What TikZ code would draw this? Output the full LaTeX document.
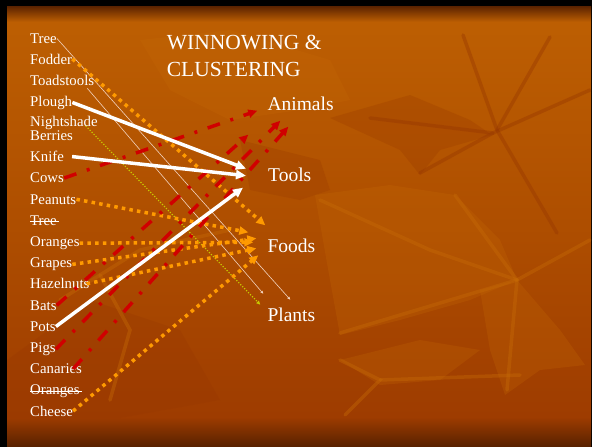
\documentclass[tikz,border=0pt]{standalone}
\usepackage{fontspec}
\setmainfont{Liberation Serif}
\usetikzlibrary{arrows.meta}
\definecolor{bgtop}{HTML}{BC5E02}
\definecolor{bgmid}{HTML}{AE4E00}
\definecolor{bgbot}{HTML}{9E3C00}
\definecolor{bgedge}{HTML}{5A2200}
\definecolor{leafdark}{HTML}{963600}
\definecolor{leaflight}{HTML}{C66A06}
\definecolor{redc}{HTML}{D00000}
\definecolor{orangec}{HTML}{FF9A00}
\definecolor{yellowc}{HTML}{C8C800}
\definecolor{thinc}{HTML}{F2D2BE}
\pgfdeclareverticalshading{slidebg}{100bp}{color(0bp)=(bgedge); color(25bp)=(bgedge); color(28.3bp)=(bgbot); color(50bp)=(bgmid); color(72.5bp)=(bgtop); color(73.2bp)=(bgtop); color(75bp)=(bgedge); color(100bp)=(bgedge)}
\tikzset{
  lbl/.style={anchor=base west, text=white, inner sep=0pt, font=\fontsize{14.8}{15}\selectfont},
  cat/.style={anchor=base west, text=white, inner sep=0pt, font=\fontsize{19.5}{20}\selectfont},
  ttl/.style={anchor=base west, text=white, inner sep=0pt, font=\fontsize{21.5}{22}\selectfont},
  strike/.style={white, line width=0.8pt},
  leaf/.style={fill=leaflight, opacity=0.25},
  darkleaf/.style={fill=leafdark, opacity=0.25},
  vein/.style={leafdark, line width=3.5pt, opacity=0.4, line cap=round},
  lightvein/.style={leaflight, line width=3.5pt, opacity=0.4, line cap=round},
  redarr/.style={redc, line width=3.5pt, dash pattern=on 13pt off 11pt on 3pt off 11pt, -{Triangle[length=9pt,width=8pt]}},
  orarr/.style={orangec, line width=3.5pt, dash pattern=on 3.5pt off 4.2pt, -{Triangle[length=9pt,width=8pt]}},
  whitearr/.style={white, line width=3.5pt, -{Triangle[length=10pt,width=9pt]}},
  thinarr/.style={thinc, line width=0.6pt, -{Triangle[length=3pt,width=2.5pt]}},
  yelarr/.style={yellowc, line width=1.2pt, dash pattern=on 1.2pt off 1.6pt, -{Triangle[length=4pt,width=3.5pt]}}
}
\begin{document}
\begin{tikzpicture}[x=1pt, y=-1pt]
  \useasboundingbox (0,0) rectangle (592,447);
  \fill[black] (0,0) rectangle (592,447);
  \shade[shading=slidebg] (7,6) rectangle (591,446);

  \begin{scope}
    \clip (7,20) rectangle (591,418);
    \fill[darkleaf] (330,118) -- (410,95) -- (470,120) -- (492,135) -- (440,150) -- (420,175) -- (400,150) -- cycle;
    \fill[darkleaf] (240,140) -- (320,160) -- (330,190) -- (300,200) -- (250,190) -- cycle;
    \fill[leaf] (315,195) -- (390,185) -- (455,195) -- (500,240) -- (517,280) -- (470,300) -- (400,320) -- (340,335) -- (330,280) -- cycle;
    \fill[leaf] (480,290) -- (517,280) -- (560,330) -- (585,365) -- (540,370) -- (505,395) -- (490,350) -- cycle;
    \fill[leaf] (140,40) -- (230,30) -- (330,60) -- (350,100) -- (300,110) -- (230,120) -- (170,90) -- cycle;
    \fill[darkleaf] (7,360) -- (90,300) -- (180,330) -- (220,400) -- (120,418) -- (7,418) -- cycle;
    \fill[leaf] (340,360) -- (420,340) -- (480,350) -- (440,380) -- (380,385) -- cycle;
    \draw[vein] (463,35) -- (497,130) -- (557,233);
    \draw[vein] (370,118) -- (493,133) -- (590,90);
    \draw[vein] (493,133) -- (420,173);
    \draw[vein] (550,37) -- (497,130);
    \draw[lightvein] (320,200) -- (430,250) -- (517,280);
    \draw[lightvein] (455,195) -- (517,280) -- (507,390);
    \draw[lightvein] (517,280) -- (590,240);
    \draw[lightvein] (517,280) -- (340,333);
    \draw[lightvein] (340,360) -- (380,380) -- (345,415);
    \draw[lightvein] (380,380) -- (520,375);
    \draw[lightvein] (60,300) -- (140,250) -- (230,230);
    \draw[lightvein] (100,275) -- (130,330) -- (110,400);
  \end{scope}

  \node[ttl] (ttl1) at (166.7,49) {WINNOWING \&};
  \node[ttl] (ttl2) at (166.7,76) {CLUSTERING};

  \node[lbl] (tree) at (30,43.3) {Tree};
  \node[lbl] (fodder) at (30,64) {Fodder};
  \node[lbl] (toad) at (30,85) {Toadstools};
  \node[lbl] (plough) at (30,106) {Plough};
  \node[lbl] (ns) at (30,126.5) {Nightshade};
  \node[lbl] (nsb) at (30,140.7) {Berries};
  \node[lbl] (knife) at (30,161.7) {Knife};
  \node[lbl] (cows) at (30,182.9) {Cows};
  \node[lbl] (peanuts) at (30,204.1) {Peanuts};
  \node[lbl] (treex) at (30,225.3) {Tree};
  \node[lbl] (oranges) at (30,246.5) {Oranges};
  \node[lbl] (grapes) at (30,267.7) {Grapes};
  \node[lbl] (hazel) at (30,288.9) {Hazelnuts};
  \node[lbl] (bats) at (30,310.1) {Bats};
  \node[lbl] (pots) at (30,331.3) {Pots};
  \node[lbl] (pigs) at (30,352.5) {Pigs};
  \node[lbl] (canaries) at (30,373.7) {Canaries};
  \node[lbl] (orangesx) at (30,394.9) {Oranges};
  \node[lbl] (cheese) at (30,416.1) {Cheese};
  \draw[strike] ([yshift=3.8pt]treex.base west) -- ([shift={(2,-3.8)}]treex.base east);
  \draw[strike] ([yshift=3.8pt]orangesx.base west) -- ([shift={(2,-3.8)}]orangesx.base east);

  \node[cat] (animals) at (267.3,110.7) {Animals};
  \node[cat] (tools) at (268,181.7) {Tools};
  \node[cat] (foods) at (267.3,252.3) {Foods};
  \node[cat] (plants) at (267.3,321.7) {Plants};

  \coordinate (an1) at ([shift={(-10,0)}]animals.base west);
  \coordinate (an2) at ([shift={(13,10)}]animals.base west);
  \coordinate (an3) at ([shift={(21,16)}]animals.base west);
  \coordinate (an4) at ([shift={(-19,24)}]animals.base west);
  \coordinate (to1) at ([shift={(-22,-13)}]tools.base west);
  \coordinate (to2) at ([shift={(-22,-6)}]tools.base west);
  \coordinate (to3) at ([shift={(-25,6)}]tools.base west);
  \coordinate (fo1) at ([shift={(-2,-27)}]foods.base west);
  \coordinate (fo2) at ([shift={(-19,-20)}]foods.base west);
  \coordinate (fo3) at ([shift={(-14,-10)}]foods.base west);
  \coordinate (fo4) at ([shift={(-11,-14)}]foods.base west);
  \coordinate (fo5) at ([shift={(-11,-4)}]foods.base west);
  \coordinate (fo6) at ([shift={(-9,3)}]foods.base west);
  \coordinate (pl1) at ([shift={(23,-22)}]plants.base west);
  \coordinate (pl2) at ([shift={(-4,-28)}]plants.base west);
  \coordinate (pl3) at ([shift={(-7,-17)}]plants.base west);

  \draw[thinarr] (tree.east) -- (pl1);
  \draw[thinarr] ([xshift=-7pt,yshift=-3pt]toad.south east) -- (pl2);
  \draw[yelarr] ([xshift=-12pt,yshift=-3pt]ns.east) -- (pl3);

  \draw[orarr] (fodder.east) -- (fo1);
  \draw[orarr] (peanuts.east) -- (fo2);
  \draw[orarr] (oranges.east) -- (fo3);
  \draw[orarr] (grapes.east) -- (fo4);
  \draw[orarr] ([xshift=-3pt]hazel.east) -- (fo5);
  \draw[orarr] (cheese.east) -- (fo6);

  \draw[redarr] (cows.east) -- (an1);
  \draw[redarr] (bats.east) -- (an4);
  \draw[redarr] (pigs.east) -- (an2);
  \draw[redarr] ([xshift=-9pt]canaries.east) -- (an3);

  \draw[whitearr] (plough.east) -- (to1);
  \draw[whitearr] ([xshift=8pt]knife.east) -- (to2);
  \draw[whitearr] (pots.east) -- (to3);
\end{tikzpicture}
\end{document}
